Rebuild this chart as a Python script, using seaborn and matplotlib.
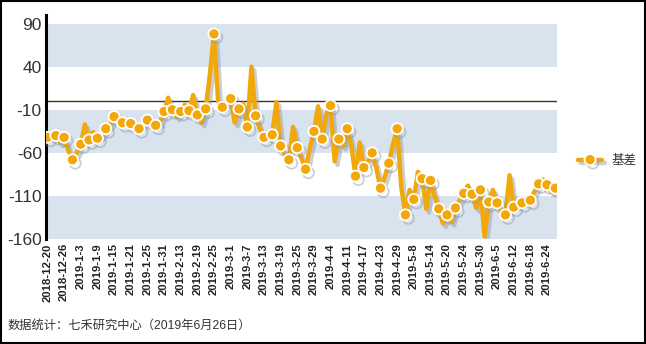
import numpy as np
import pandas as pd
import seaborn as sns
import matplotlib
matplotlib.use("Agg")
import matplotlib.pyplot as plt
import matplotlib.patheffects as pe
from matplotlib.patches import Rectangle

# ---- data ----
series_name = "基差"
basis_values = [
    -42, -42, -40, -48, -42, -57, -68, -60, -50, -27,
    -45, -36, -43, -40, -32, -28, -18, -22, -25, -22,
    -26, -28, -32, -26, -22, -24, -28, -25, -12, 4,
    -10, -18, -12, -4, -11, 7, -16, -25, -9, 30,
    78, 0, -7, -2, 3, -25, -9, -3, -30, 40,
    -17, -32, -42, -36, -39, -1, -52, -62, -68, -30,
    -54, -66, -79, -55, -35, -6, -44, -15, -5, -70,
    -44, -52, -32, -52, -87, -48, -77, -70, -60, -78,
    -101, -88, -72, -50, -32, -100, -132, -103, -114, -82,
    -90, -125, -92, -110, -125, -142, -132, -140, -124, -115,
    -107, -98, -108, -124, -103, -157, -117, -103, -118, -128,
    -132, -86, -123, -120, -118, -116, -115, -105, -96, -91,
    -97, -105, -101,
]
tick_labels = [
    "2018-12-20", "2018-12-26", "2019-1-3", "2019-1-9", "2019-1-15", "2019-1-21",
    "2019-1-25", "2019-1-31", "2019-2-13", "2019-2-19", "2019-2-25", "2019-3-1",
    "2019-3-7", "2019-3-13", "2019-3-19", "2019-3-25", "2019-3-29", "2019-4-4",
    "2019-4-11", "2019-4-17", "2019-4-23", "2019-4-29", "2019-5-8", "2019-5-14",
    "2019-5-20", "2019-5-24", "2019-5-30", "2019-6-5", "2019-6-12", "2019-6-18",
    "2019-6-24",
]
y_ticks = [90, 40, -10, -60, -110, -160]
footer = "数据统计：七禾研究中心（2019年6月26日）"

tick_step = 4
df = pd.DataFrame({"idx": np.arange(len(basis_values)), "value": basis_values})

# ---- style ----
sns.set_style("white")
plt.rcParams["font.family"] = ["Liberation Sans", "Noto Sans CJK SC", "DejaVu Sans"]

orange = "#F2A80A"
band = "#D9E3EE"

fig = plt.figure(figsize=(6.46, 3.44), dpi=100)
ax = fig.add_axes([46 / 646, 1 - 239 / 344, (557 - 46) / 646, (239 - 15) / 344])

# bands
for lo, hi in [(40, 90), (-60, -10), (-160, -110)]:
    ax.axhspan(lo, hi, color=band, lw=0, zorder=0)
ax.axhline(0, color="#333333", lw=1.0, zorder=1)

sns.lineplot(data=df, x="idx", y="value", ax=ax, color=orange, lw=3.2,
             marker="o", markevery=2, markersize=8, markerfacecolor=orange,
             markeredgecolor="white", markeredgewidth=1.3, label=series_name,
             zorder=3)
line = ax.lines[-1]
line.set_path_effects([pe.SimpleLineShadow(offset=(2, -2.5), shadow_color="#8a96a8",
                                           alpha=0.45), pe.Normal()])

ax.set_xlim(-0.35, len(basis_values) - 1 + 0.4)
ax.set_ylim(-160, 100)
ax.set_yticks(y_ticks)
ax.set_yticklabels([str(v) for v in y_ticks], fontsize=12.5, color="#333333")
xt = np.arange(0, len(tick_labels) * tick_step, tick_step)
ax.set_xticks(xt)
ax.set_xticklabels(tick_labels, rotation=90, fontsize=8.1, fontweight="bold",
                   color="#222222")
ax.tick_params(axis="both", length=0, pad=3)
ax.set_xlabel("")
ax.set_ylabel("")
for s in ["top", "right", "bottom"]:
    ax.spines[s].set_visible(False)
ax.spines["left"].set_color("black")
ax.spines["left"].set_linewidth(2.2)

leg = ax.legend(loc="center left", bbox_to_anchor=(572 / 646, 1 - 161 / 344),
                bbox_transform=fig.transFigure, frameon=False, fontsize=9,
                handlelength=1.9, handletextpad=0.8, borderpad=0)
for t in leg.get_texts():
    t.set_color("#333333")
for h in leg.legend_handles:
    h.set_path_effects([pe.SimpleLineShadow(offset=(2, -2.5), shadow_color="#8a96a8",
                                            alpha=0.45), pe.Normal()])

fig.text(8 / 646, 1 - 326 / 344, footer, fontsize=8.8, color="#333333",
         va="center", ha="left")

fig.patches.append(Rectangle((0.002, 0.003), 0.996, 0.994, transform=fig.transFigure,
                             fill=False, edgecolor="black", lw=1.5))

fig.savefig("out.png", dpi=100)
